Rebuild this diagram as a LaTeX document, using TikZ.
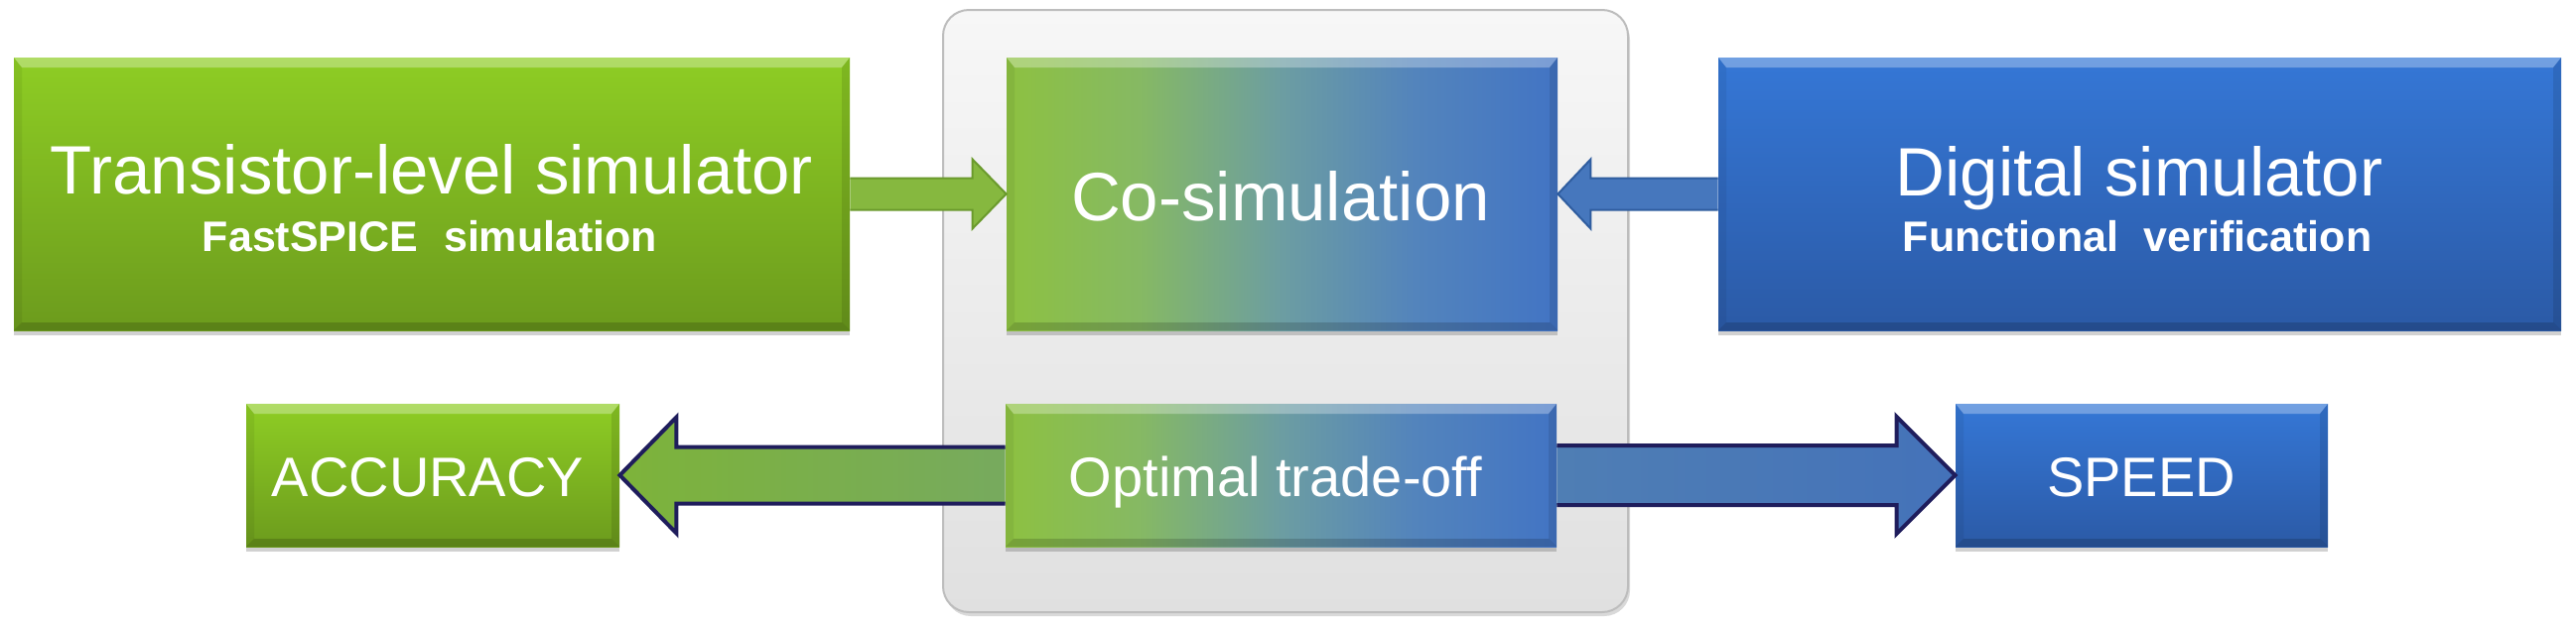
\documentclass[tikz,border=0pt]{standalone}
\usepackage{fontspec}
\setmainfont{Liberation Sans}
\usetikzlibrary{calc,shadows}
\definecolor{gTop}{HTML}{8ECD24}
\definecolor{gBot}{HTML}{6C9B1D}
\definecolor{bTop}{HTML}{3577D6}
\definecolor{bBot}{HTML}{2B5AA6}
\definecolor{cG}{HTML}{8DC141}
\definecolor{cG2}{HTML}{86B963}
\definecolor{cM}{HTML}{6C9DA2}
\definecolor{cB2}{HTML}{5384BC}
\definecolor{cB}{HTML}{4274C4}
\definecolor{panelTop}{HTML}{F7F7F7}
\definecolor{panelBot}{HTML}{E0E0E0}
\definecolor{panelLine}{HTML}{BDBDBD}
\definecolor{gArrFill}{HTML}{86B83F}
\definecolor{gArrLine}{HTML}{6A9A2C}
\definecolor{bArrFill}{HTML}{4677BD}
\definecolor{bArrLine}{HTML}{2F5D9F}
\definecolor{navy}{HTML}{1F1D5C}
\definecolor{accL}{HTML}{7DB33A}
\definecolor{accR}{HTML}{77AA5E}
\definecolor{spdL}{HTML}{4F7EB4}
\definecolor{spdR}{HTML}{4472B9}
\pgfdeclarehorizontalshading{cosimshade}{100bp}{color(0bp)=(cG); color(25bp)=(cG); color(37bp)=(cG2); color(50bp)=(cM); color(62bp)=(cB2); color(75bp)=(cB); color(100bp)=(cB)}
\newcommand\bevelfx{%
  \fill[white,opacity=0.30] (path picture bounding box.north west) -- (path picture bounding box.north east)
     -- ([xshift=-4pt,yshift=-5pt]path picture bounding box.north east) -- ([xshift=4pt,yshift=-5pt]path picture bounding box.north west) -- cycle;
  \fill[black,opacity=0.16] (path picture bounding box.south west) -- (path picture bounding box.south east)
     -- ([xshift=-4pt,yshift=4pt]path picture bounding box.south east) -- ([xshift=4pt,yshift=4pt]path picture bounding box.south west) -- cycle;
  \fill[black,opacity=0.06] (path picture bounding box.north west) -- ([xshift=4pt,yshift=-5pt]path picture bounding box.north west)
     -- ([xshift=4pt,yshift=4pt]path picture bounding box.south west) -- (path picture bounding box.south west) -- cycle;
  \fill[black,opacity=0.10] (path picture bounding box.north east) -- ([xshift=-4pt,yshift=-5pt]path picture bounding box.north east)
     -- ([xshift=-4pt,yshift=4pt]path picture bounding box.south east) -- (path picture bounding box.south east) -- cycle;
}
\tikzset{
  boxbase/.style={rectangle, inner sep=0pt, draw=none,
    drop shadow={shadow xshift=0pt, shadow yshift=-2.5pt, opacity=0.18, fill=black},
    path picture={\bevelfx}},
  greenbox/.style={boxbase, top color=gTop, bottom color=gBot},
  bluebox/.style={boxbase, top color=bTop, bottom color=bBot},
  mixbox/.style={boxbase, shading=cosimshade},
  bigtext/.style={anchor=base, text=white, inner sep=0pt, font=\fontsize{34.5}{40}\selectfont},
  subtext/.style={anchor=base, text=white, inner sep=0pt, font=\bfseries\fontsize{21.5}{25}\selectfont},
  midtext/.style={anchor=base, text=white, inner sep=0pt, font=\fontsize{28}{32}\selectfont},
  panelbox/.style={rectangle, rounded corners=13pt, inner sep=0pt, draw=panelLine, line width=1pt,
    top color=panelTop, bottom color=panelBot,
    drop shadow={shadow xshift=1pt, shadow yshift=-2pt, opacity=0.15, fill=black}},
  garrow/.style={fill=gArrFill, draw=gArrLine, line width=1pt, line join=miter},
  barrow/.style={fill=bArrFill, draw=bArrLine, line width=1pt, line join=miter},
  accarrow/.style={left color=accL, right color=accR, draw=navy, line width=2pt, line join=miter},
  spdarrow/.style={left color=spdL, right color=spdR, draw=navy, line width=2pt, line join=miter}
}
\begin{document}
\begin{tikzpicture}[x=0.5pt,y=-0.5pt]
\useasboundingbox (0,0) rectangle (2595,633);
\fill[white] (0,0) rectangle (2595,633);

% central panel
\node[panelbox, minimum width=345pt, minimum height=303.5pt] (panel) at (1295,313.5) {};

% top row boxes
\node[greenbox, minimum width=421pt, minimum height=137.5pt] (trans) at (435,195.5) {};
\node[mixbox, minimum width=277.5pt, minimum height=137.5pt] (cosim) at (1291.5,195.5) {};
\node[bluebox, minimum width=424.5pt, minimum height=137.5pt] (dig) at (2155.5,195.5) {};

% bottom row boxes
\node[greenbox, minimum width=188pt, minimum height=72pt] (acc) at (436,479) {};
\node[mixbox, minimum width=277.5pt, minimum height=72pt] (opt) at (1290.5,479) {};
\node[bluebox, minimum width=187.5pt, minimum height=72pt] (spd) at (2157.5,479) {};

% top arrows
\draw[garrow] ($(trans.east)+(0,-16)$) -- ($(cosim.west)+(-34,-16)$) -- ($(cosim.west)+(-34,-35)$)
   -- (cosim.west) -- ($(cosim.west)+(-34,35)$) -- ($(cosim.west)+(-34,16)$) -- ($(trans.east)+(0,16)$);
\draw[barrow] ($(dig.west)+(0,-16)$) -- ($(cosim.east)+(33,-16)$) -- ($(cosim.east)+(33,-35)$)
   -- (cosim.east) -- ($(cosim.east)+(33,35)$) -- ($(cosim.east)+(33,16)$) -- ($(dig.west)+(0,16)$);

% bottom arrows
\draw[accarrow] ($(opt.west)+(0,-28.5)$) -- ($(acc.east)+(57,-28.5)$) -- ($(acc.east)+(57,-58.5)$)
   -- (acc.east) -- ($(acc.east)+(57,58.5)$) -- ($(acc.east)+(57,28.5)$) -- ($(opt.west)+(0,28.5)$);
\draw[spdarrow] ($(opt.east)+(0,-30)$) -- ($(spd.west)+(-59,-30)$) -- ($(spd.west)+(-59,-59)$)
   -- (spd.west) -- ($(spd.west)+(-59,59)$) -- ($(spd.west)+(-59,30)$) -- ($(opt.east)+(0,30)$);

% texts
\node[bigtext] (transT) at (435,195) {Transistor-level simulator};
\node[subtext] (transS) at (433,253) {FastSPICE\hspace{0.6em}simulation};
\node[bigtext] (cosimT) at (1290,222) {Co-simulation};
\node[bigtext] (digT) at (2155,197) {Digital simulator};
\node[subtext] (digS) at (2153,253) {Functional\hspace{0.6em}verification};
\node[midtext] (accT) at (431,500) {ACCURACY};
\node[midtext] (optT) at (1285,500) {Optimal trade-off};
\node[midtext] (spdT) at (2157,500) {SPEED};
\end{tikzpicture}
\end{document}
